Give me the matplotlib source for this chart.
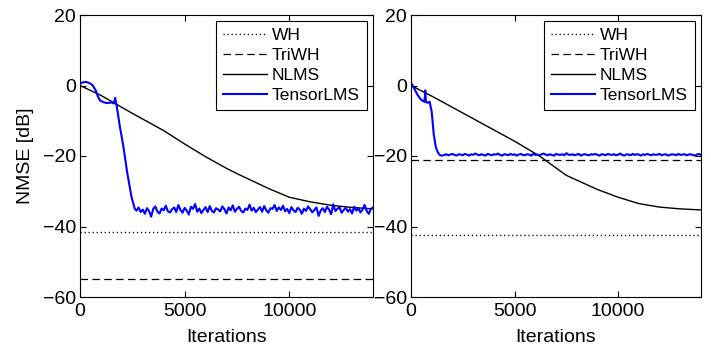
import numpy as np
import matplotlib
matplotlib.use('Agg')
import matplotlib.pyplot as plt

plt.rcParams['font.family'] = ['Liberation Sans', 'DejaVu Sans']

# ---- data ----
labels = ['WH', 'TriWH', 'NLMS', 'TensorLMS']

# left panel
wh_left = -41.6
triwh_left = -55.0
nlms_it_left = [0, 1000, 2500, 4000, 5000, 6000, 7000, 7500, 9000, 10000, 11000, 12000, 13000, 14000]
nlms_left = [0, -2.8, -7.9, -12.8, -16.6, -20.2, -23.5, -25.0, -29.2, -31.7, -33.0, -34.0, -34.6, -35.0]

tlms_head_it_left = [0, 150, 300, 450, 600, 750, 850, 950, 1100, 1300, 1500, 1620, 1680, 1740,
                     1800, 1900, 2060, 2250, 2460, 2620]
tlms_head_left = [0.6, 0.9, 1.0, 0.7, 0.1, -1.4, -3.0, -4.2, -4.7, -5.0, -4.8, -5.1, -3.5, -5.4,
                  -7.5, -11.5, -16.8, -24.5, -31.6, -35.0]
tlms_tail_left = [
    -35.5, -34.6, -35.9, -35.2, -36.4, -34.8, -35.6, -37.2, -35.0, -34.3,
    -35.8, -36.3, -34.9, -35.4, -34.1, -35.7, -36.0, -35.1, -34.6, -35.9,
    -33.9, -35.3, -36.1, -34.7, -35.5, -36.6, -34.4, -35.0, -33.6, -35.8,
    -34.9, -36.2, -35.3, -34.5, -35.9, -34.2, -35.6, -36.0, -34.8, -35.2,
    -35.7, -34.3, -35.1, -36.3, -34.6, -35.4, -34.0, -35.8, -35.0, -34.4,
    -35.6, -36.0, -34.9, -35.3, -33.8, -35.5, -34.7, -35.9, -35.2, -34.5,
    -35.8, -34.2, -35.4, -36.1, -34.8, -35.0, -33.9, -35.6, -34.6, -35.3,
    -34.1, -35.7, -35.0, -36.2, -34.5, -35.4, -35.9, -34.7, -35.2, -36.4,
    -34.9, -35.6, -34.3, -35.1, -36.0, -35.3, -34.6, -37.0, -35.5, -34.8,
    -35.9, -34.4, -35.2, -36.5, -33.7, -35.6, -35.0, -34.5, -36.1, -35.3,
    -34.7, -35.8, -35.1, -36.3, -34.4, -35.5, -34.9, -36.0, -35.2, -33.9,
    -35.6, -36.4, -35.0, -34.6]
tlms_tail_it_left = np.arange(2700, 14001, 100)

# right panel
wh_right = -42.3
triwh_right = -21.0
nlms_it_right = [0, 1000, 2500, 4000, 5000, 6200, 7500, 9000, 10000, 11000, 12000, 13000, 14000]
nlms_right = [0, -3.0, -7.8, -12.6, -15.8, -20.0, -25.5, -29.5, -31.7, -33.5, -34.5, -35.0, -35.3]

tlms_head_it_right = [0, 150, 300, 450, 550, 650, 690, 720, 800, 900, 1000, 1100, 1200, 1300, 1400]
tlms_head_right = [0.8, -0.8, -2.5, -3.8, -4.3, -4.6, -1.4, -4.7, -4.9, -4.6, -7.5, -14.0, -17.5,
                   -19.0, -19.8]
tlms_tail_right = [
    -19.9, -19.7, -19.5, -19.8, -19.6, -19.4, -19.7, -19.9, -19.5, -19.6,
    -19.8, -19.4, -19.6, -19.9, -19.5, -19.7, -19.3, -19.6, -19.8, -19.5,
    -19.7, -19.9, -19.4, -19.6, -19.8, -19.5, -19.6, -19.3, -19.7, -19.9,
    -19.5, -19.6, -19.8, -19.4, -19.7, -19.5, -19.9, -19.6, -19.4, -19.7,
    -19.8, -19.5, -19.6, -19.9, -19.4, -19.7, -19.6, -19.8, -19.5, -19.3,
    -19.6, -19.8, -19.5, -19.7, -19.9, -19.4, -19.6, -19.7, -19.5, -19.8,
    -19.2, -19.6, -19.7, -19.5, -19.8, -19.6, -19.4, -19.9, -19.6, -19.5,
    -19.7, -19.8, -19.5, -19.6, -19.4, -19.7, -19.9, -19.5, -19.6, -19.8,
    -19.4, -19.6, -19.7, -19.5, -19.8, -19.6, -19.3, -19.7, -19.9, -19.5,
    -19.6, -19.8, -19.4, -19.7, -19.5, -19.6, -19.9, -19.5, -19.7, -19.4,
    -19.6, -19.8, -19.5, -19.7, -19.6, -19.4, -19.8, -19.6, -19.5, -19.9,
    -19.7, -19.5, -19.6, -19.8, -19.4, -19.7, -19.6, -19.5, -19.8, -19.6,
    -19.5, -19.7, -19.9, -19.6, -19.4, -19.7]
tlms_tail_it_right = np.arange(1500, 14001, 100)

xmax = 14000

fig = plt.figure(figsize=(7.11, 3.45), dpi=100)
ax0 = fig.add_axes([80 / 711, 48 / 345, 293 / 711, 282 / 345])
ax1 = fig.add_axes([411 / 711, 48 / 345, 290 / 711, 282 / 345])

panels = [
    (ax0, wh_left, triwh_left, nlms_it_left, nlms_left,
     tlms_head_it_left, tlms_head_left, tlms_tail_it_left, tlms_tail_left),
    (ax1, wh_right, triwh_right, nlms_it_right, nlms_right,
     tlms_head_it_right, tlms_head_right, tlms_tail_it_right, tlms_tail_right),
]

for ax, wh, tri, nit, nv, hit, hv, tit, tv in panels:
    t_it = list(hit) + list(tit)
    t_v = list(hv) + list(tv)
    ax.plot([0, xmax], [wh, wh], color='black', lw=1.0, dashes=(0.9, 2.0), label=labels[0])
    ax.plot([0, xmax], [tri, tri], color='black', lw=0.9, dashes=(6, 3.5), label=labels[1])
    ax.plot(nit, nv, color='black', lw=1.0, label=labels[2])
    ax.plot(t_it, t_v, color='#0000ff', lw=1.5, label=labels[3])

    ax.set_xlim(0, xmax)
    ax.set_ylim(-60, 20)
    ax.set_xticks([0, 5000, 10000])
    ax.set_yticks([-60, -40, -20, 0, 20])
    ax.set_yticklabels(['\u221260', '\u221240', '\u221220', '0', '20'])
    ax.tick_params(direction='in', top=True, right=True, length=4, width=0.8,
                   labelsize=14)
    ax.tick_params(axis='x', pad=4)
    ax.tick_params(axis='y', pad=3)
    for s in ax.spines.values():
        s.set_linewidth(0.8)
    ax.set_xlabel('Iterations', fontsize=14, labelpad=7)
    leg = ax.legend(loc='upper right', fontsize=12.5, handlelength=2.5, handletextpad=0.3,
                    labelspacing=0.27, borderaxespad=0.35, borderpad=0.4, fancybox=False,
                    framealpha=1)
    leg.get_frame().set_edgecolor('black')
    leg.get_frame().set_linewidth(0.8)

ax0.set_ylabel('NMSE [dB]', fontsize=14, labelpad=6)

fig.savefig('out.png', dpi=100)
